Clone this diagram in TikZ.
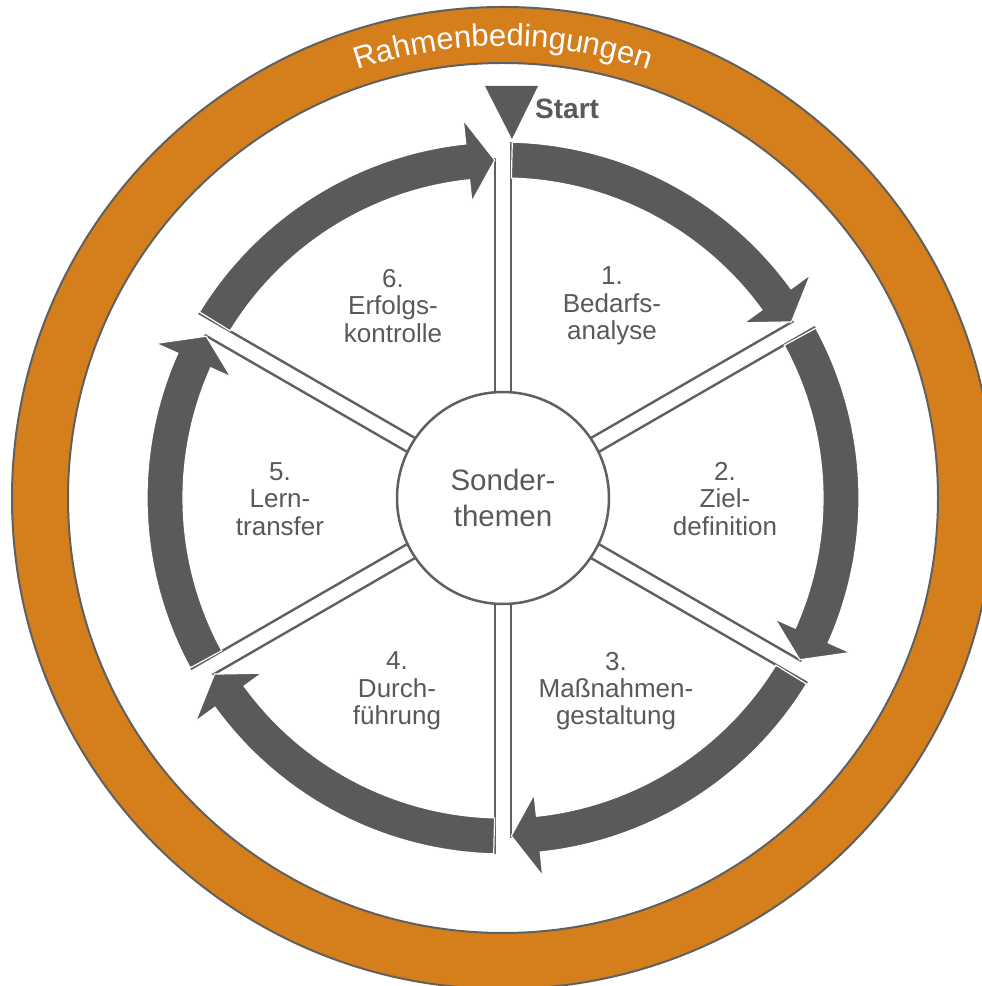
\documentclass[tikz,border=0pt]{standalone}
\usepackage{fontspec}
\setmainfont{Liberation Sans}
\usetikzlibrary{calc,decorations.text}
\definecolor{ringorange}{HTML}{D57E1C}
\definecolor{dgray}{HTML}{5A5A5A}
\definecolor{tgray}{HTML}{595959}
\definecolor{lgray}{HTML}{606060}
\begin{document}
\begin{tikzpicture}[x=1pt,y=1pt,
  lbl/.style={align=center, text=tgray, font=\fontsize{26pt}{27.3pt}\selectfont, inner sep=0pt},
  spokeline/.style={draw=lgray, line width=2.4pt},
  arrowseg/.style={fill=dgray, draw=white, line width=1.2pt, line join=miter}]
\useasboundingbox (0,0) rectangle (982,986);
\clip (0,0) rectangle (982,986);
\fill[white] (0,0) rectangle (982,986);
\coordinate (C) at (503,488);
% outer frame ring
\fill[ringorange, even odd rule] (C) circle[radius=491] (C) circle[radius=435];
\draw[lgray, line width=2pt] (C) circle[radius=491] (C) circle[radius=435];
\path[decorate, decoration={text along path, text align=center,
  text={|\color{white}\fontsize{31pt}{31pt}\selectfont|Rahmenbedingungen}}]
  ($(C)+(140:452)$) arc[start angle=140, end angle=40, radius=452];
% spokes
\foreach \th in {90,30,-30,-90,-150,150}{
  \draw[spokeline] ($(C)+(\th:100)+({\th+90}:8)$) -- ($(C)+(\th:340)+({\th+90}:8)$);
  \draw[spokeline] ($(C)+(\th:100)+({\th-90}:8)$) -- ($(C)+(\th:356)+({\th-90}:8)$);
}
% arrows
\foreach \s in {90,30,-30,-90,-150,-210}{
  \pgfmathsetmacro{\myE}{\s-60}
  \pgfmathsetmacro{\myA}{\s-1.5}
  \pgfmathsetmacro{\myB}{\myE+6}
  \pgfmathsetmacro{\myT}{\myE+1.4}
  \path[arrowseg] ($(C)+(\myA:356)$) arc[start angle=\myA, end angle=\myB, radius=356]
    -- ($(C)+(\myB:380)$) -- ($(C)+(\myT:338)$) -- ($(C)+(\myB:298)$)
    -- ($(C)+(\myB:320)$) arc[start angle=\myB, end angle=\myA, radius=320] -- cycle;
}
% centre
\node[circle, draw=lgray, line width=2.5pt, fill=white, minimum size=212pt, inner sep=0pt,
  align=center, text=tgray, font=\fontsize{29.5pt}{36pt}\selectfont] (ST) at (C) {Sonder-\\themen};
% labels
\node[lbl] (l1) at (612,680) {1.\\Bedarfs-\\analyse};
\node[lbl] (l6) at (393,680) {6.\\Erfolgs-\\kontrolle};
\node[lbl] (l2) at (725,487) {2.\\Ziel-\\definition};
\node[lbl] (l5) at (280,487) {5.\\Lern-\\transfer};
\node[lbl] (l3) at (616,295) {3.\\Maßnahmen-\\gestaltung};
\node[lbl] (l4) at (397,295) {4.\\Durch-\\führung};
% start marker
\fill[dgray] (485,900) -- (538,900) -- (512,847) -- cycle;
\node[anchor=base west, text=tgray, font=\bfseries\fontsize{28pt}{28pt}\selectfont, inner sep=0pt] (start) at (535,867) {Start};
\end{tikzpicture}
\end{document}
